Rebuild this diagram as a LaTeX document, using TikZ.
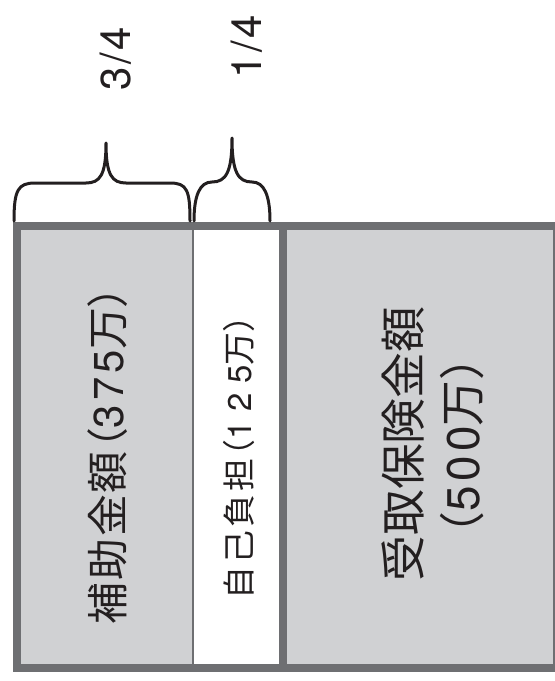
\documentclass[tikz,border=0pt]{standalone}
\usepackage{fontspec}
\setmainfont{Noto Sans CJK JP}
\newfontfamily\lat{TeX Gyre Heros}
\definecolor{framegray}{HTML}{6E6F72}
\definecolor{boxgray}{HTML}{D0D1D3}
\definecolor{ink}{HTML}{231F20}
\newcommand\trk[2]{{\addfontfeature{LetterSpace=#1}#2}}
\newcommand\dig[2]{{\lat\addfontfeature{LetterSpace=#1}#2}}
\begin{document}
\begin{tikzpicture}[x=1bp,y=-1bp,
  frame/.style={draw=framegray,line width=8bp},
  brace/.style={draw=ink,line width=3bp,line cap=round,line join=round},
  lbl/.style={rotate=90,inner sep=0pt,text=ink,font=\fontsize{#1}{#1}\selectfont},
]
\useasboundingbox (0,0) rectangle (555,681);
\begin{scope}
\clip (0,0) rectangle (555,681);
% fills
\fill[boxgray] (16,225) rectangle (193,667);
\fill[white] (193,225) rectangle (283,667);
\fill[boxgray] (283,225) rectangle (558,667);
% separators
\draw[draw=framegray,line width=1.5bp] (193,225) -- (193,667);
\draw[frame] (283,225) -- (283,667);
% outer frame
\draw[frame] (16.5,225.5) rectangle (557,667.5);
\end{scope}
% braces
\draw[brace] (14,221) .. controls (14,190) and (18,183) .. (35,183) -- (86,183)
  .. controls (100,183) and (106,175) .. (106,143)
  .. controls (106,175) and (112,183) .. (126,183) -- (170,183)
  .. controls (187,183) and (190,190) .. (190,221);
\draw[brace] (194,221) .. controls (194,195) and (200,182) .. (212,182)
  .. controls (226,182) and (232,172) .. (232,138)
  .. controls (232,172) and (238,182) .. (252,182)
  .. controls (264,182) and (270,195) .. (270,221);
% fraction labels
\node[lbl=42] (f1) at (116,59) {\dig{6}{3/4}};
\node[lbl=42] (f2) at (247,47) {\dig{6}{1/4}};
% box labels
\node[lbl=42,anchor=west] (a) at (108,625)
  {\trk{5}{補助金額}\kern-0.45em（\dig{10}{375}万）};
\node[lbl=33,anchor=west] (b) at (239,599.5)
  {\trk{9}{自己負担}\kern-0.4em（\dig{29}{125}万）};
\node[lbl=46] (c) at (403,444) {受取保険金額};
\node[lbl=46] (d) at (462,446) {（\dig{10}{500}万）};
\end{tikzpicture}
\end{document}
